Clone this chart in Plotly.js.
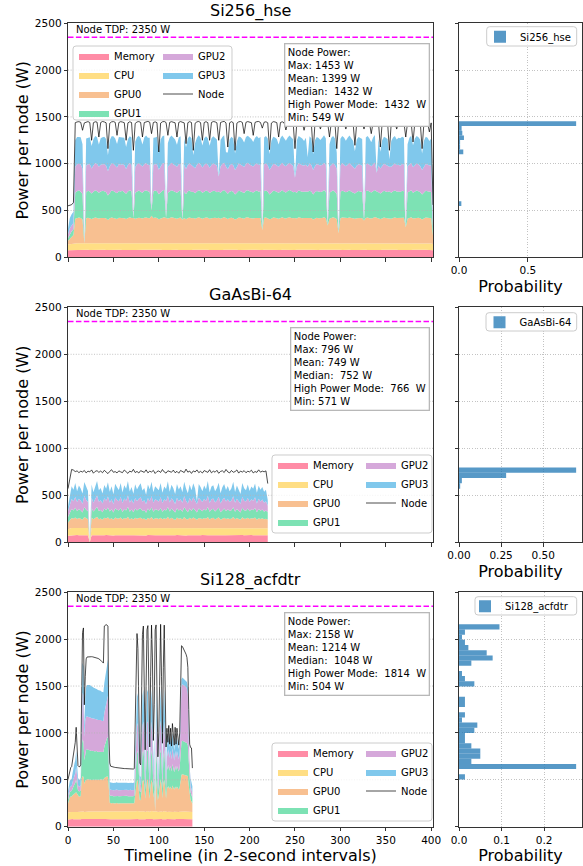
<!DOCTYPE html>
<html><head><meta charset="utf-8">
<script src="https://cdn.plot.ly/plotly-3.0.1.min.js"></script>
<style>html,body{margin:0;padding:0;background:#fff;}#chart{width:583px;height:866px;}</style>
</head><body><div id="chart"></div>
<script>
// ---------------- DATA ----------------
const TDP = 2350;
const componentNames = ['Memory','CPU','GPU0','GPU1','GPU2','GPU3'];
const componentColors = ['#ff8ca6','#ffde84','#f8c091','#7de2b4','#d5a8da','#80c8ec'];
const statLabels = ['Max','Mean','Median','High Power Mode','Min'];
const panelTitles = ['Si256_hse','GaAsBi-64','Si128_acfdtr'];
const sampleSteps = [2, 2, 1];   // timeline intervals between the readings of each panel
const powerTicks = [0, 500, 1000, 1500, 2000, 2500];
const timeTicks = [0, 50, 100, 150, 200, 250, 300, 350, 400];

// Si256_hse (readings every 2 intervals, 0..402)
const si256Node = [
550,556,562,585,1438,1446,1449,1442,1357,1436,
1447,1450,1440,1250,1438,1448,1444,1285,1440,1451,
1446,1437,1161,1432,1447,1450,1442,1303,1440,1449,
1445,1438,1250,1436,1448,1440,1143,1430,1446,1450,
1441,1285,1440,1448,1452,1443,1321,1440,1447,1438,
1125,1434,1448,1451,1440,1303,1442,1449,1446,1437,
1285,1441,1450,1447,1436,1214,1438,1449,1440,1143,
1432,1447,1451,1439,1250,1440,1449,1438,1250,1441,
1450,1447,1437,1250,1440,1448,1452,1436,1178,1437,
1449,1438,1143,1433,1447,1451,1441,1321,1442,1450,
1446,1438,1303,1441,1449,1451,1440,1380,1443,1448,
1437,1150,1434,1449,1446,1438,1285,1440,1448,1437,
1360,1442,1451,1447,1436,1161,1436,1449,1450,1440,
1357,1441,1449,1445,1434,1125,1433,1448,1440,1370,
1442,1450,1447,1437,1285,1440,1449,1437,1161,1435,
1448,1452,1440,1370,1443,1450,1446,1435,1196,1436,
1449,1451,1440,1370,1443,1449,1438,1321,1440,1450,
1446,1436,1178,1435,1448,1440,1436,1143,1432,1447,
1441,1370,1442,1450,1446,1437,1285,1440,1449,1436,
1232,1438,1450,1447,1436,1161,1435,1448,1440,1340,
1436,560];
const si256Mem = [
74,75,76,77,79,80,78,79,80,78,
79,80,78,79,81,80,78,79,80,79,
80,78,79,81,80,79,78,80,79,81,
79,80,78,79,80,81,79,78,80,79,
80,79,81,80,78,79,80,81,79,80,
78,80,79,81,80,79,78,80,81,79,
80,79,78,80,81,79,80,78,79,80,
81,79,80,78,79,80,81,80,79,78,
80,81,79,80,78,79,80,81,79,80,
79,78,80,81,79,80,78,79,80,81,
80,79,81,80,78,79,80,79,81,80,
79,80,78,79,81,80,79,78,80,79,
80,81,79,78,80,79,81,80,78,79,
80,79,78,80,81,79,80,79,78,80,
79,81,80,78,79,80,81,79,80,78,
80,79,81,80,78,80,79,81,80,79,
78,80,79,81,80,79,78,80,79,81,
80,79,78,80,81,79,80,78,79,80,
81,80,79,78,80,81,79,80,78,79,
80,79,81,80,79,78,80,81,79,80,
78,76];
const si256Cpu = [
62,65,68,70,72,71,73,72,70,71,
72,71,73,70,71,72,71,73,72,70,
71,72,70,73,71,72,71,70,72,73,
72,71,73,70,72,71,72,73,71,70,
71,73,72,71,70,72,73,71,72,71,
73,71,72,70,71,73,72,71,70,72,
71,72,73,71,72,70,71,73,72,71,
72,70,71,73,72,71,70,72,73,71,
70,72,71,72,73,71,72,70,71,73,
72,71,73,70,71,72,73,71,72,70,
71,73,72,71,70,72,71,73,72,71,
72,71,70,73,72,71,72,71,73,70,
71,72,73,71,70,72,71,73,72,71,
73,71,72,70,71,73,72,71,70,72,
71,72,70,73,72,71,73,72,71,70,
72,73,71,72,71,70,72,71,73,72,
71,70,72,73,71,72,71,70,72,73,
72,71,73,71,72,70,71,73,72,71,
70,72,71,73,72,71,72,70,71,73,
72,71,70,72,73,71,72,71,73,72,
70,66];
const si256Gpu0 = [
40,60,75,90,262,270,275,268,255,0,
265,272,268,260,266,274,270,262,268,273,
270,265,250,262,274,270,267,260,271,268,
272,266,258,270,275,268,270,262,270,274,
268,262,270,275,271,266,290,268,274,270,
255,265,273,278,270,262,270,276,272,266,
262,270,275,250,268,258,270,274,266,270,
258,270,276,270,262,268,274,270,260,268,
274,270,266,270,262,272,276,270,258,266,
272,268,252,262,274,270,266,262,272,276,
270,266,262,270,275,268,270,140,270,274,
268,255,264,272,270,266,262,270,275,268,
264,270,276,272,266,270,262,274,270,268,
266,270,270,274,268,252,264,272,270,266,
270,275,268,190,262,270,274,268,258,110,
266,274,270,264,270,276,268,262,258,266,
272,270,266,240,270,274,268,264,270,276,
270,266,258,264,272,270,266,270,262,270,
274,268,270,266,272,270,170,264,270,275,
262,268,274,270,264,255,262,272,270,266,
268,90];
const si256Gpu1 = [
30,50,60,60,278,285,290,282,270,0,
280,288,284,272,280,290,286,276,282,288,
285,280,262,276,290,286,282,274,286,282,
288,280,270,284,290,282,0,276,284,290,
282,276,284,290,286,280,60,282,288,284,
268,280,288,292,0,276,284,290,286,280,
276,284,290,0,282,270,284,288,280,280,
272,284,290,286,276,282,288,284,274,282,
288,284,280,280,276,286,290,280,270,280,
286,282,266,276,288,284,280,276,286,290,
284,280,276,284,290,282,286,0,284,288,
282,266,278,286,284,280,276,284,290,282,
278,284,290,286,280,280,276,288,284,282,
280,284,280,288,282,266,278,286,284,280,
284,290,282,0,276,284,288,282,270,0,
280,288,284,278,284,290,282,276,270,280,
286,284,280,0,284,288,282,278,284,290,
280,280,272,278,286,284,280,284,276,284,
288,282,284,280,286,284,0,278,284,290,
276,282,288,284,278,268,276,286,284,280,
282,70];
const si256Gpu2 = [
40,60,60,70,280,288,284,290,272,0,
286,282,290,268,284,288,292,278,286,282,
290,284,258,280,288,292,284,276,290,286,
284,290,264,282,288,286,0,274,288,292,
286,280,288,292,284,290,0,286,282,290,
262,282,290,286,0,278,288,292,284,282,
278,288,284,0,286,266,282,290,288,272,
268,286,292,284,270,286,290,282,270,286,
290,284,282,160,280,288,292,270,262,282,
288,284,262,276,290,286,282,278,288,292,
286,282,278,286,290,284,288,0,286,290,
282,262,280,288,286,282,278,286,292,284,
280,286,290,284,282,150,280,290,286,284,
282,286,268,290,284,262,280,288,286,282,
286,292,284,0,278,286,290,284,266,0,
282,290,286,280,286,292,284,278,266,282,
288,286,282,0,286,290,284,280,286,292,
200,284,268,280,288,286,282,262,278,286,
290,284,286,282,288,286,0,280,286,290,
272,284,290,286,280,262,278,288,286,282,
284,60];
const si256Gpu3 = [
60,110,120,120,280,290,286,292,260,0,
288,284,290,240,282,292,286,236,284,290,
292,284,170,278,290,294,286,250,288,292,
286,290,236,280,288,292,0,272,290,294,
286,236,284,292,288,290,0,288,284,292,
175,280,290,294,0,252,288,292,286,280,
236,286,292,0,284,232,286,290,286,120,
270,288,294,286,236,286,290,284,236,288,
292,286,280,0,284,290,294,150,180,278,
290,286,175,274,288,292,284,260,286,290,
288,284,262,286,292,286,290,0,288,292,
286,170,276,290,288,284,238,286,292,286,
272,288,294,290,284,0,280,290,292,286,
262,288,100,292,286,170,276,290,286,272,
288,294,286,0,240,286,290,284,175,0,
286,292,288,272,288,294,286,278,185,280,
290,288,284,0,288,292,286,256,288,294,
0,286,180,278,290,288,284,80,276,290,
292,272,288,294,290,284,0,236,288,292,
236,286,292,290,282,175,278,290,286,262,
286,110];
const si256Stats = [1453, 1399, 1432, 1432, 549];
const si256Hist = [0.017,0,0,0,0,0,0,0,0,0,0,0.031,0.008,0.008,0.036,0.024,0.019,0.85];

// GaAsBi-64 (readings every 2 intervals, 0..220)
const gaasNode = [
571,690,775,768,752,760,741,756,748,764,
738,757,749,770,735,755,762,744,758,740,
766,748,731,755,772,745,752,738,760,749,
741,769,753,733,758,747,776,742,754,737,
762,750,744,771,739,756,748,765,732,753,
759,743,774,748,736,761,752,745,768,740,
755,735,764,750,742,778,746,758,733,760,
748,770,741,755,737,763,751,744,772,739,
757,746,766,734,754,761,742,775,749,738,
764,745,752,770,736,758,747,762,740,756,
749,767,738,753,744,771,746,757,750,760,
625];
const gaasMem = [
70,73,75,76,74,77,75,73,76,75,
74,76,0,75,77,74,76,75,73,76,
75,77,74,76,75,73,76,74,77,75,
76,74,75,77,73,76,75,74,76,77,
74,76,75,73,77,75,76,74,75,76,
75,73,76,75,74,77,75,76,73,75,
77,75,74,76,75,73,76,75,77,74,
75,76,73,75,77,74,75,76,74,75,
76,74,75,77,73,75,76,74,75,77,
74,76,75,73,76,75,77,74,76,75,
75,77,74,76,75,73,76,75,74,76,
74];
const gaasCpu = [
70,75,78,76,79,77,75,78,76,79,
77,75,0,78,76,79,77,75,78,76,
79,76,77,75,78,80,76,77,79,75,
77,79,76,78,75,77,80,76,78,77,
75,78,77,79,76,75,78,77,76,79,
78,76,79,77,75,78,76,79,77,75,
76,79,77,75,78,76,77,79,75,78,
79,77,75,78,76,79,77,76,78,77,
77,75,78,76,79,77,75,78,76,79,
76,78,77,79,75,77,78,76,79,77,
78,76,79,77,76,78,75,77,78,76,
76];
const gaasGpu0 = [
70,90,105,98,112,94,108,100,88,115,
102,95,0,110,92,104,118,96,101,89,
108,99,115,93,104,87,111,102,96,113,
90,106,99,117,94,103,88,110,97,105,
112,95,101,86,109,98,114,92,105,100,
96,113,90,104,99,116,93,107,101,88,
110,97,105,92,115,100,89,108,96,112,
99,87,111,103,94,106,98,117,91,104,
107,94,100,113,89,102,110,96,105,93,
101,115,92,106,98,88,112,100,95,109,
94,104,99,111,90,106,97,103,92,98,
90];
const gaasGpu1 = [
60,80,95,88,102,84,96,90,78,105,
92,85,0,98,82,95,106,86,91,79,
97,89,104,83,94,77,100,92,86,102,
80,96,89,105,84,93,78,99,87,95,
101,85,91,76,98,88,103,82,95,90,
86,102,80,94,89,105,83,97,91,78,
99,87,95,82,104,90,79,97,86,101,
89,77,100,93,84,96,88,106,81,94,
96,84,90,102,79,92,99,86,95,83,
91,104,82,96,88,78,101,90,85,98,
84,94,89,100,80,96,87,93,82,88,
80];
const gaasGpu2 = [
60,90,108,100,116,96,110,104,92,118,
106,98,0,112,94,108,120,100,104,92,
110,102,118,96,108,90,114,106,98,116,
94,110,102,120,97,106,91,113,100,108,
116,98,104,90,112,102,118,95,108,103,
99,116,93,107,102,119,96,110,104,92,
113,100,108,95,118,104,92,111,99,115,
102,90,114,106,97,109,101,120,94,107,
110,97,103,116,92,105,113,99,108,96,
104,118,95,109,101,91,115,103,98,112,
97,107,102,114,93,109,100,106,95,100,
70];
const gaasGpu3 = [
50,100,135,120,148,115,140,128,110,150,
132,118,0,142,112,136,155,122,130,108,
140,126,152,114,138,105,146,134,120,150,
112,142,128,156,117,133,104,145,124,138,
150,118,130,102,144,126,154,113,138,128,
120,150,110,136,127,155,115,142,130,106,
146,124,138,112,153,130,108,144,122,149,
128,30,147,134,116,140,126,156,114,137,
142,118,131,150,110,134,146,124,139,116,
130,152,114,140,126,106,148,131,120,144,
118,136,128,148,112,140,125,134,116,120,
60];
const gaasStats = [796, 749, 752, 766, 571];
const gaasHist = [0.007, 0.017, 0.28, 0.696];

// Si128_acfdtr (a reading every interval, 0..137)
const si128Node = [
504,560,620,630,640,700,800,830,900,1060,
900,650,640,640,660,1740,2070,2120,1300,1600,
1790,1810,1812,1814,1815,1814,1813,1812,1810,1808,
1806,1803,1800,1795,1790,1785,1775,1765,1755,1745,
2140,2152,2155,2150,2140,1000,680,645,640,638,
636,634,632,630,628,627,626,625,624,623,
622,621,620,620,619,619,618,618,617,617,
616,616,615,620,1100,1800,2060,1900,1200,680,
660,1400,2050,2140,1600,820,1500,2100,2145,1300,
850,1600,2150,1800,920,1300,2100,2152,1500,745,
1000,1900,2158,1600,890,1700,2150,1500,850,1050,
900,1080,880,1050,860,1100,1000,870,1060,880,
1050,950,870,1000,1500,1930,1922,1905,1885,1865,
1840,1805,1700,1250,880,845,840,625];
const si128Mem = [
78,80,79,81,80,82,80,79,81,80,
79,80,81,80,79,82,83,82,80,81,
82,81,83,82,81,82,83,81,82,81,
82,83,81,82,81,82,83,82,81,82,
83,82,83,82,81,80,79,80,79,80,
79,80,79,80,79,80,79,80,79,80,
79,80,79,80,79,80,79,80,79,80,
79,80,79,80,81,82,83,82,80,79,
80,81,82,83,81,79,81,82,83,80,
79,81,83,82,80,81,83,84,82,79,
80,82,84,82,80,82,83,81,80,81,
80,81,80,81,80,81,80,81,80,81,
80,81,80,81,82,83,83,82,82,82,
82,82,81,81,80,80,80,79];
const si128Cpu = [
70,74,76,77,78,79,78,77,79,78,
77,78,77,78,79,80,81,80,78,79,
80,79,80,81,80,79,80,81,80,79,
80,81,80,79,80,81,80,79,80,81,
80,81,80,81,80,78,77,78,77,78,
77,78,77,78,77,78,77,78,77,78,
77,78,77,78,77,78,77,78,77,78,
77,78,77,78,80,82,84,83,80,78,
77,80,83,84,81,78,80,83,84,80,
78,81,84,82,79,80,83,84,81,77,
78,81,84,81,78,80,84,81,78,79,
78,79,78,79,78,79,78,79,78,79,
78,79,78,79,80,82,82,81,81,81,
81,80,79,79,78,78,78,77];
const si128Gpu0 = [
100,150,160,165,165,175,190,195,200,210,
195,170,165,165,170,350,375,370,300,330,
340,345,342,338,344,340,336,342,339,341,
338,343,340,337,341,339,343,338,340,342,
360,365,370,372,375,250,100,95,92,94,
92,93,91,94,92,93,92,91,93,92,
91,92,93,92,91,93,92,91,92,93,
92,91,93,92,180,280,330,320,220,130,
125,230,320,335,290,140,260,330,335,220,
140,280,335,300,150,230,0,336,260,125,
180,310,338,290,145,300,335,260,140,270,
250,275,245,270,240,280,260,235,270,245,
270,255,240,260,330,390,395,393,392,390,
388,385,380,280,170,130,110,90];
const si128Gpu1 = [
40,50,55,55,58,70,90,100,110,140,
100,60,55,55,60,350,390,380,250,310,
325,322,318,315,312,310,308,306,305,304,
303,302,300,299,298,297,296,295,293,292,
330,360,390,410,420,200,80,78,78,77,
78,77,78,79,78,77,78,78,79,78,
77,78,78,77,79,78,77,78,78,79,
78,77,78,78,150,260,310,300,180,90,
85,200,300,315,260,100,230,310,315,190,
100,250,315,270,110,200,0,316,240,85,
140,290,318,260,105,270,315,230,100,220,
200,225,195,220,190,230,210,185,220,195,
220,205,190,210,300,350,356,355,354,352,
350,345,330,220,120,80,70,60];
const si128Gpu2 = [
40,45,50,50,52,65,80,90,100,130,
90,55,50,50,55,400,500,490,250,330,
345,348,350,352,353,352,350,349,348,346,
345,344,342,340,338,336,335,333,332,330,
360,380,400,420,440,180,64,63,64,65,
64,63,64,65,64,63,64,64,65,64,
63,64,64,63,65,64,63,64,64,65,
64,63,64,64,140,250,300,290,170,80,
75,190,290,305,250,90,220,300,305,180,
90,240,305,260,100,190,0,306,230,75,
130,280,308,250,95,260,305,220,90,160,
140,165,135,160,130,170,150,125,160,135,
160,145,130,150,400,590,603,600,598,595,
590,580,540,250,100,70,60,55];
const si128Gpu3 = [
50,60,70,72,75,100,120,130,140,170,
120,80,75,72,78,250,320,310,100,250,
320,335,340,342,340,338,336,334,330,328,
326,324,322,320,318,316,314,312,310,308,
320,330,340,370,390,150,78,77,78,78,
77,78,78,79,78,77,78,78,77,78,
78,77,78,79,78,77,78,77,79,78,
78,77,78,79,150,250,320,310,170,90,
85,200,320,340,260,100,230,330,340,180,
95,250,340,280,110,200,0,342,240,85,
140,300,345,260,100,280,340,230,95,140,
120,150,115,140,110,160,130,105,140,115,
140,125,110,130,120,75,72,72,71,70,
70,72,75,120,90,78,75,70];
const si128Stats = [2158, 1214, 1048, 1814, 504];
const si128Hist = [0.014,0,0.275,0.029,0.05,0.05,0.029,0.014,0.014,0.036,
0.043,0.007,0.014,0,0.014,0.014,0,0,0.036,0.014,
0.007,0,0.029,0.079,0.065,0.022,0.014,0.007,0.014,0.095];

// ---------------- LAYOUT / DRAWING ----------------
const W = 583, H = 866;
const px = v => v / W;
const py = v => 1 - v / H;
const FONT = 'DejaVu Sans, Liberation Sans, Arial, sans-serif';
const panels = [
  {node: si256Node, comps: [si256Mem, si256Cpu, si256Gpu0, si256Gpu1, si256Gpu2, si256Gpu3], stats: si256Stats, hist: si256Hist},
  {node: gaasNode, comps: [gaasMem, gaasCpu, gaasGpu0, gaasGpu1, gaasGpu2, gaasGpu3], stats: gaasStats, hist: gaasHist},
  {node: si128Node, comps: [si128Mem, si128Cpu, si128Gpu0, si128Gpu1, si128Gpu2, si128Gpu3], stats: si128Stats, hist: si128Hist}
];
const rowPx = [[23.3, 257.3], [307.3, 542.3], [592.3, 826.7]];
const leftPx = [68, 433], rightPx = [459, 582];
// legend frames (px): [x0, y0, x1, y1], column-2 offset
const legendFrames = [[73, 46, 232, 120], [272, 455, 432, 533], [272, 743, 432, 821]];
const legendCol2 = [85, 89, 89];
const histFrames = [[486.7, 26.7, 576.7, 46], [486, 312.7, 576.7, 331], [475, 596.7, 576.7, 615]];
const histTextX = [520, 519.5, 505];
const histTicks = [[0, 0.5], [0, 0.25, 0.5], [0, 0.1, 0.2]];
const histFmt = ['.1f', '.2f', '.1f'];
const statsTopPx = [42.7, 326.7, 611.7];
const statsRightPx = 430;
const GRID = {color: '#b4b4b4', width: 0.8, dash: '1px,1.6px'};

const traces = [];
const layout = {
  width: W, height: H, margin: {l: 0, r: 0, t: 0, b: 0},
  paper_bgcolor: '#fff', plot_bgcolor: '#fff',
  font: {family: FONT, color: '#000', size: 10.5},
  showlegend: true, shapes: [], annotations: []
};

function roundRect(x0, y0, x1, y1, r) {
  const X = v => px(v).toFixed(5), Y = v => py(v).toFixed(5);
  return `M${X(x0 + r)},${Y(y0)} L${X(x1 - r)},${Y(y0)} Q${X(x1)},${Y(y0)} ${X(x1)},${Y(y0 + r)} ` +
    `L${X(x1)},${Y(y1 - r)} Q${X(x1)},${Y(y1)} ${X(x1 - r)},${Y(y1)} L${X(x0 + r)},${Y(y1)} ` +
    `Q${X(x0)},${Y(y1)} ${X(x0)},${Y(y1 - r)} L${X(x0)},${Y(y0 + r)} Q${X(x0)},${Y(y0)} ${X(x0 + r)},${Y(y0)} Z`;
}
function frameShape(f) {
  return {
    type: 'path', xref: 'paper', yref: 'paper', path: roundRect(f[0], f[1], f[2], f[3], 3),
    fillcolor: 'rgba(255,255,255,0.8)', line: {color: '#cccccc', width: 1}, layer: 'above'
  };
}

const baseAxis = {
  ticks: 'outside', ticklen: 3.5, tickwidth: 0.8, tickcolor: '#000',
  showline: true, linecolor: '#000', linewidth: 0.8, mirror: true,
  zeroline: false, tickfont: {size: 10.5, family: FONT, color: '#000'},
  gridcolor: GRID.color, griddash: GRID.dash, gridwidth: GRID.width
};
const ROWOFF = 14; // px from legend top to centre of its first row

panels.forEach((p, r) => {
  const xa = r === 0 ? 'x' : 'x' + (2 * r + 1);
  const ya = r === 0 ? 'y' : 'y' + (2 * r + 1);
  const xb = 'x' + (2 * r + 2), yb = 'y' + (2 * r + 2);
  const lg1 = r === 0 ? 'legend' : 'legend' + (3 * r + 1);
  const lg2 = 'legend' + (3 * r + 2), lg3 = 'legend' + (3 * r + 3);
  const xs = p.node.map((_, i) => i * sampleSteps[r]);

  p.comps.forEach((vals, c) => {
    traces.push({
      type: 'scatter', mode: 'lines', x: xs, y: vals, stackgroup: 's' + r,
      name: componentNames[c], fillcolor: componentColors[c],
      line: {width: 0, color: componentColors[c]},
      xaxis: xa, yaxis: ya, legend: c < 4 ? lg1 : lg2, hoverinfo: 'skip'
    });
  });
  traces.push({
    type: 'scatter', mode: 'lines', x: xs, y: p.node, name: 'Node',
    line: {color: 'rgba(0,0,0,0.7)', width: 1}, xaxis: xa, yaxis: ya, legend: lg2, hoverinfo: 'skip'
  });

  const lo = p.stats[4], hi = p.stats[0], n = p.hist.length, bw = (hi - lo) / n;
  traces.push({
    type: 'bar', orientation: 'h', name: panelTitles[r],
    y: p.hist.map((_, k) => lo + (k + 0.5) * bw), x: p.hist, width: bw,
    marker: {color: 'rgba(31,119,180,0.75)', line: {width: 0}},
    xaxis: xb, yaxis: yb, legend: lg3, hoverinfo: 'skip'
  });

  const yDom = [py(rowPx[r][1]), py(rowPx[r][0])];
  const kx = r === 0 ? 'xaxis' : 'xaxis' + (2 * r + 1);
  const ky = r === 0 ? 'yaxis' : 'yaxis' + (2 * r + 1);
  layout[kx] = Object.assign({}, baseAxis, {
    domain: [px(leftPx[0]), px(leftPx[1])], anchor: ya, range: [0, 402],
    tickvals: timeTicks, showgrid: false,
    showticklabels: r === 2,
    title: r === 2 ? {text: 'Timeline (in 2-second intervals)', font: {size: 16, family: FONT}, standoff: 1} : {text: ''}
  });
  layout[ky] = Object.assign({}, baseAxis, {
    domain: yDom, anchor: xa, range: [0, 2500],
    tickvals: powerTicks, showgrid: false,
    title: {text: 'Power per node (W)', font: {size: 16, family: FONT}, standoff: 2}
  });
  // horizontal grid of the timeline panel drawn over the stacked areas
  powerTicks.slice(1, -1).forEach(v => {
    layout.shapes.push({
      type: 'line', xref: xa + ' domain', yref: ya, x0: 0, x1: 1, y0: v, y1: v,
      line: {color: GRID.color, width: GRID.width, dash: GRID.dash}, layer: 'above'
    });
  });
  const maxP = Math.max.apply(null, p.hist);
  layout['xaxis' + (2 * r + 2)] = Object.assign({}, baseAxis, {
    domain: [px(rightPx[0]), px(rightPx[1])], anchor: yb, range: [0, maxP * 1.05],
    tickvals: histTicks[r], tickformat: histFmt[r], showgrid: true,
    title: {text: 'Probability', font: {size: 16, family: FONT}, standoff: 5}
  });
  layout['yaxis' + (2 * r + 2)] = Object.assign({}, baseAxis, {
    domain: yDom, anchor: xb, range: [0, 2500],
    tickvals: powerTicks, showgrid: true, showticklabels: false
  });

  // TDP line and label
  layout.shapes.push({
    type: 'line', xref: xa + ' domain', yref: ya, x0: 0, x1: 1, y0: TDP, y1: TDP,
    line: {color: '#ff00ff', width: 1.5, dash: '5.5px,2.4px'}, layer: 'above'
  });
  layout.annotations.push({
    xref: xa + ' domain', yref: ya, x: 0.02, y: TDP, xanchor: 'left', yanchor: 'bottom',
    text: 'Node TDP: ' + TDP + ' W', showarrow: false, font: {size: 10, family: FONT, color: '#000'},
    borderpad: 0, yshift: 1
  });

  // title
  layout.annotations.push({
    xref: 'paper', yref: 'paper', x: px((leftPx[0] + leftPx[1]) / 2), y: py(rowPx[r][0] - 12.5),
    xanchor: 'center', yanchor: 'middle', text: panelTitles[r], showarrow: false,
    font: {size: 16, family: FONT, color: '#000'}
  });

  // stats box
  const s = p.stats, nb = '\u00a0';
  const lines = ['Node Power:',
    statLabels[0] + ': ' + s[0] + ' W',
    statLabels[1] + ': ' + s[1] + ' W',
    statLabels[2] + ':' + nb + ' ' + s[2] + ' W',
    statLabels[3] + ':' + nb + ' ' + s[3] + nb + ' W',
    statLabels[4] + ': ' + s[4] + ' W'];
  layout.annotations.push({
    xref: 'paper', yref: 'paper', x: px(statsRightPx), y: py(statsTopPx[r]),
    xanchor: 'right', yanchor: 'top', align: 'left', showarrow: false,
    text: lines.join('<br>'), font: {size: 10, family: FONT, color: '#000'},
    bgcolor: '#ffffff', bordercolor: '#b8b8b8', borderwidth: 1.3, borderpad: 2.5
  });

  // legend frames + legend columns
  const f = legendFrames[r];
  layout.shapes.push(frameShape(f));
  const legCommon = {
    xanchor: 'left', yanchor: 'top', bgcolor: 'rgba(0,0,0,0)', borderwidth: 0,
    font: {size: 10, family: FONT, color: '#000'}, traceorder: 'normal', orientation: 'v', itemwidth: 30
  };
  const firstRow = f[1] + 9.5;
  layout[lg1] = Object.assign({}, legCommon, {x: px(f[0] + 1), y: py(firstRow - ROWOFF)});
  layout[lg2] = Object.assign({}, legCommon, {x: px(f[0] + legendCol2[r]), y: py(firstRow - ROWOFF)});

  const hf = histFrames[r];
  layout.shapes.push(frameShape(hf));
  layout[lg3] = Object.assign({}, legCommon, {
    x: px(histTextX[r] - 40), y: py((hf[1] + hf[3]) / 2 - ROWOFF)
  });
});

Plotly.newPlot('chart', traces, layout, {staticPlot: true, displayModeBar: false});
</script>
</body></html>
